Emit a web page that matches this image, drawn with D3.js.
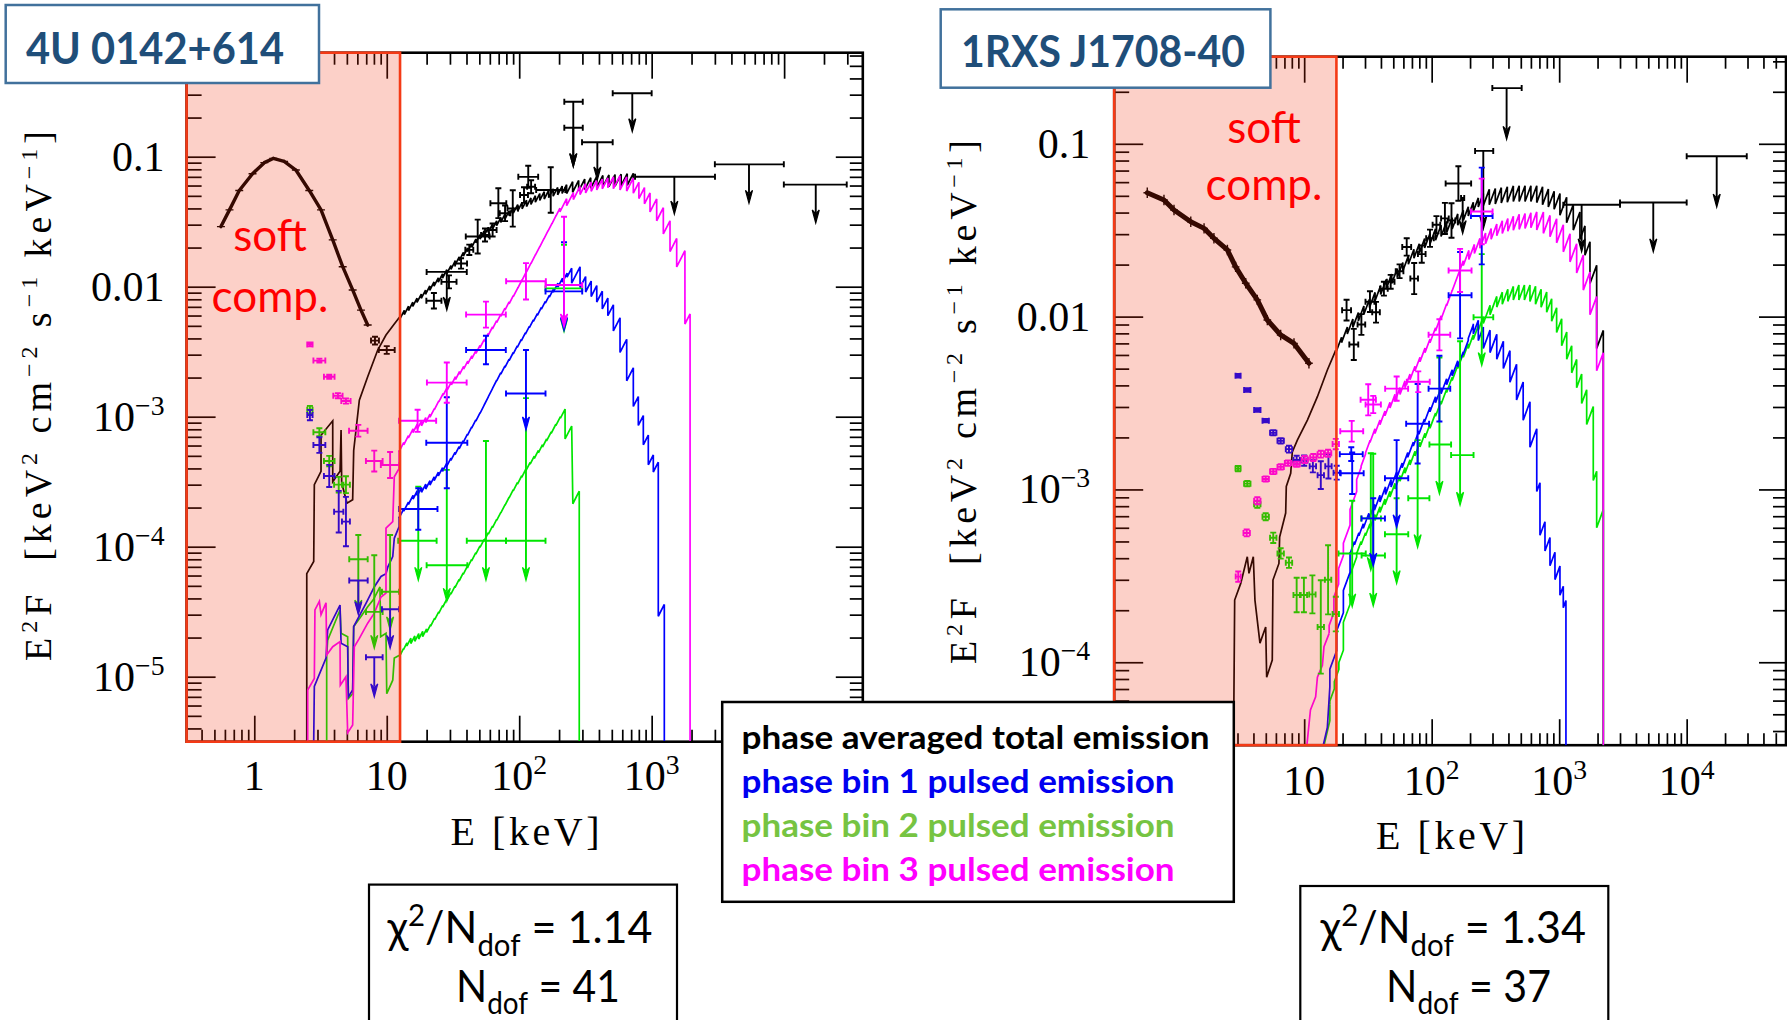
<!DOCTYPE html>
<html>
<head>
<meta charset="utf-8">
<script src="https://cdnjs.cloudflare.com/ajax/libs/d3/7.8.5/d3.min.js"></script>
<style>
  body { margin: 0; background: #fff; overflow: hidden; }
  svg { display: block; }
</style>
</head>
<body>
<div id="chart"></div>
<script>
// ---------- 4U 0142+614 (left panel) : [E keV, E2F] ----------
const u0142Soft = [[0.56,0.029],[0.65,0.039],[0.77,0.055],[0.97,0.074],[1.19,0.090],[1.39,0.097],[1.68,0.092],[2.06,0.079],[2.60,0.055],[3.19,0.039],[3.91,0.0229],[4.65,0.01425],[5.53,0.00944],[6.39,0.0066],[7.18,0.00507]];

const u0142TotalLo = [[2.49,3.2e-6],[2.49,6.2e-5],[2.81,7.7e-5],[2.84,3.0e-4],[3.19,3.8e-4],[3.19,7.2e-4],[3.91,9.3e-4],[3.91,3.16e-4],[4.44,3.8e-4],[4.52,7.9e-4],[4.57,3.1e-4],[5.01,2.16e-4],[5.53,2.3e-4],[5.63,5.5e-4],[6.21,1.34e-3],[7.18,2.03e-3],[8.55,3.26e-3],[9.87,4.25e-3],[11.4,5.16e-3],[12.6,5.9e-3]];
const u0142TotalHi = [[12.6,5.9e-3],[28.4,0.0130],[50.6,0.0243],[90.2,0.0389],[143,0.0492],[228,0.0571],[385,0.0643],[727,0.0673]];
const u0142Bin1Lo = [[2.81,3.2e-6],[2.84,8.4e-6],[3.48,1.39e-5],[3.58,2.29e-5],[4.44,3.56e-5],[4.52,1.81e-5],[5.07,1.70e-5],[5.13,7.0e-6],[5.53,7.9e-6],[5.63,2.43e-5],[6.97,3.67e-5],[8.05,4.9e-5],[9.05,5.9e-5],[9.87,6.2e-5],[10.2,7.0e-5],[11.1,8.4e-5],[11.4,1.16e-4],[12.4,1.43e-4],[12.4,1.70e-4]];
const u0142Bin1Hi = [[12.4,1.70e-4],[15.8,2.43e-4],[21.2,3.08e-4],[28.4,4.25e-4],[37.8,6.4e-4],[50.6,1.06e-3],[67.6,1.91e-3],[90.2,3.08e-3],[128,5.5e-3],[181,9.4e-3],[249,0.0134],[288,0.0113],[385,8.9e-3],[514,6.2e-3],[648,2.9e-3],[727,1.55e-3],[865,7.9e-4],[1029,3.9e-4],[1122,4.3e-4],[1122,3.0e-5],[1246,3.5e-5],[1246,3.2e-6]];
const u0142Bin2Lo = [[3.52,3.2e-6],[3.52,1.43e-5],[3.58,1.91e-5],[4.44,3.26e-5],[4.52,2.16e-5],[5.07,2.03e-5],[5.13,6.8e-6],[5.53,7.4e-6],[5.63,2.43e-5],[6.39,2.9e-5],[7.18,3.45e-5],[7.91,3.9e-5],[8.89,4.9e-5],[9.0,2.03e-5],[9.87,2.16e-5],[10.0,7.4e-6],[11.1,9.4e-6],[11.4,1.39e-5],[12.6,1.47e-5]];
const u0142Bin2Hi = [[12.6,1.47e-5],[14.2,1.81e-5],[20.0,2.22e-5],[28.4,3.9e-5],[37.8,6.2e-5],[50.6,1.0e-4],[67.6,1.6e-4],[90.2,2.73e-4],[121,4.4e-4],[161,6.6e-4],[222,1.13e-3],[222,6.8e-4],[249,8.4e-4],[254,2.16e-4],[284,2.65e-4],[284,3.2e-6]];
const u0142Bin3Lo = [[2.53,3.2e-6],[2.53,7.9e-6],[2.84,9.7e-6],[2.87,3.26e-5],[3.10,3.8e-5],[3.19,3.0e-5],[3.48,3.7e-5],[3.52,1.47e-5],[3.91,1.70e-5],[4.44,1.86e-5],[4.46,8.6e-6],[4.92,1.0e-5],[5.07,3.7e-6],[5.53,4.25e-6],[5.69,1.70e-5],[6.21,1.97e-5],[7.18,2.58e-5],[8.05,3.08e-5],[9.05,4.1e-5],[9.87,4.4e-5],[9.87,1.39e-4],[11.1,1.56e-4],[11.4,3.45e-4],[12.4,4.0e-4],[12.4,5.5e-4]];
const u0142Bin3Hi = [[12.4,5.5e-4],[15.8,7.9e-4],[21.2,1.0e-3],[26.7,1.5e-3],[50.6,3.45e-3],[90.2,8.4e-3],[143,0.0203],[203,0.0401],[288,0.0555],[385,0.0605],[514,0.0643],[727,0.0605],[972,0.0456],[1225,0.0334],[1545,0.0179],[1783,0.0150],[1783,5.5e-3],[1950,5.8e-3],[1950,3.2e-6]];

// points: [E, F, half width in dex (E), half height in dex (F)]
const u0142TotalPts = [[8.15,3.85e-3,0.03,0.03],[10.0,3.26e-3,0.06,0.03],[22.7,7.8e-3,0.057,0.06],[29.5,0.0109,0.057,0.05],[36.4,0.0151,0.045,0.04],[42.0,0.0192,0.03,0.04],[48.6,0.0243,0.09,0.13],[55.2,0.025,0.03,0.05],[63,0.0273,0.03,0.05],[69.6,0.0439,0.06,0.115],[78.2,0.0367,0.04,0.06],[89.4,0.040,0.04,0.14],[108.7,0.0507,0.03,0.06],[117,0.070,0.075,0.085],[123,0.0588,0.03,0.05],[173,0.0555,0.11,0.175]];
// upper limits: [E, Elow, Ehigh, F, F arrow tip, F top of line (optional)]
const u0142TotalUL = [[28.4,20.0,40.2,0.013,6.6e-3],[256,219,302,0.265,0.0838],[256,219,302,0.167,0.0838],[389,298,508,0.129,0.0662],[714,508,1000,0.3076,0.1556],[1483,749,3007,0.0702,0.0362],[5430,3000,9950,0.0873,0.0438],[17330,9950,29700,0.061,0.0309]];
const u0142Bin1Pts = [[2.63,1.03e-3,0.02,0.04],[3.10,6.05e-4,0.045,0.06],[3.68,3.5e-4,0.04,0.085],[4.34,1.86e-4,0.035,0.16],[4.92,1.56e-4,0.03,0.19],[17.3,1.95e-4,0.145,0.16],[28.4,6.3e-4,0.155,0.35],[56.1,3.26e-3,0.15,0.11]];
const u0142Bin1UL = [[6.10,5.21,7.18,5.5e-5,3.0e-5],[8.05,6.97,9.31,1.41e-5,7.0e-6],[10.6,9.2,12.4,3.3e-5,1.65e-5],[112.5,79.5,158,1.51e-3,7.9e-4,3.26e-3],[218,158,299,9.2e-3,4.6e-3,0.022]];
const u0142Bin2Pts = [[2.63,1.13e-3,0.02,0.03],[3.10,7.6e-4,0.045,0.03],[3.68,4.56e-4,0.04,0.04],[4.34,3.0e-4,0.035,0.06],[4.92,3.0e-4,0.03,0.065]];
const u0142Bin2UL = [[6.10,5.21,7.18,8.0e-5,3.08e-5,1.23e-4],[8.05,6.97,9.31,3.15e-5,1.65e-5,8.6e-5],[10.6,9.2,12.4,4.5e-5,2.29e-5,1.23e-4],[17.3,12.2,23.8,1.11e-4,5.5e-5,2.9e-4],[28.4,20.0,40.6,7.2e-5,3.8e-5,3.9e-4],[56.1,40.2,79.5,1.11e-4,5.5e-5,6.5e-4],[112.5,79.5,158,1.11e-4,5.5e-5,1.39e-3],[218,158,299,9.7e-3,4.5e-3,0.021]];
const u0142Bin3Pts = [[2.63,3.6e-3,0.02,0.015],[3.10,2.7e-3,0.045,0.015],[3.68,2.03e-3,0.04,0.015],[4.28,1.45e-3,0.035,0.02],[4.92,1.32e-3,0.035,0.02],[6.10,7.8e-4,0.07,0.045],[8.05,4.56e-4,0.063,0.08],[10.6,4.25e-4,0.07,0.1],[17.1,9.3e-4,0.14,0.085],[28.4,1.83e-3,0.15,0.155],[56.1,6.1e-3,0.15,0.1],[112.5,0.011,0.15,0.14]];
const u0142Bin3UL = [[218,158,299,0.0103,4.9e-3,0.0345]];

// the 10^4 label sits under the legend box in the reference
const u0142EnergyLabels = [1, 10, 100, 1000];
const u0142FluxLabels = [0.1, 0.01, 1e-3, 1e-4, 1e-5];

// ---------- 1RXS J1708-40 (right panel) ----------
const j1708Soft = [[0.588,0.0521],[0.795,0.0473],[0.953,0.0414],[1.29,0.0354],[1.64,0.0324],[1.96,0.0284],[2.50,0.0243],[2.90,0.0194],[3.48,0.0156],[4.29,0.0125],[5.14,9.55e-3],[6.54,7.83e-3],[8.32,7.0e-3],[10.9,5.37e-3]];

const j1708TotalLo = [[2.81,3.3e-5],[2.81,6.0e-5],[2.85,2.29e-4],[3.18,2.86e-4],[3.58,4.08e-4],[3.69,3.27e-4],[3.99,4.08e-4],[4.11,2.29e-4],[4.50,1.29e-4],[4.99,1.60e-4],[5.08,8.2e-5],[5.62,1.03e-4],[5.69,2.99e-4],[6.34,3.73e-4],[6.42,5.3e-4],[7.16,7.3e-4],[7.24,1.04e-3],[7.84,1.24e-3],[8.07,1.65e-3],[8.84,1.93e-3],[10.6,2.52e-3],[12.7,3.44e-3],[15.2,4.91e-3],[17.7,6.4e-3]];
const j1708TotalHi = [[17.7,6.4e-3],[21.8,8.4e-3],[29.4,0.0109],[39.8,0.0143],[53.7,0.0178],[72.6,0.0232],[97,0.0284],[177,0.0383],[254,0.0486],[437,0.0515],[667,0.0515],[1014,0.0457],[1455,0.034],[1744,0.0223],[1968,0.0138],[2219,3.95e-3],[2219,3.3e-5]];
const j1708Bin1Lo = [[14.1,3.3e-5],[15.2,4.2e-5],[15.9,7.2e-5]];
const j1708Bin1Hi = [[15.9,7.2e-5],[18.0,1.48e-4],[20.3,1.99e-4],[22.9,4.34e-4],[29.1,6.2e-4],[39.3,8.9e-4],[53.1,1.2e-3],[71.8,1.82e-3],[97,2.93e-3],[131,4.2e-3],[177,6.0e-3],[212,9.1e-3],[254,7.6e-3],[324,6.8e-3],[411,5.3e-3],[522,3.3e-3],[590,2.45e-3],[667,1.61e-3],[707,6.6e-4],[847,4.34e-4],[1014,3.0e-4],[1077,2.24e-4],[1130,2.1e-4],[1130,3.3e-5]];
const j1708Bin2Lo = [[14.3,3.3e-5],[15.9,4.6e-5],[15.9,5.7e-5]];
const j1708Bin2Hi = [[15.9,5.7e-5],[20.3,1.23e-4],[22.9,3.0e-4],[25.8,4.34e-4],[32.8,6.2e-4],[47.1,9.4e-4],[67.6,1.43e-3],[97,2.31e-3],[131,3.72e-3],[177,6.0e-3],[212,7.6e-3],[254,9.7e-3],[324,0.0123],[437,0.0138],[590,0.0138],[798,0.0123],[955,9.7e-3],[1146,6.8e-3],[1371,4.72e-3],[1643,3.1e-3],[1851,2.31e-3],[1968,6.2e-4],[2219,7.4e-4],[2219,3.3e-5]];
const j1708Bin3Lo = [[10.5,3.3e-5],[11.2,5.3e-5],[12.3,6.3e-5],[12.7,8.2e-5],[13.9,9.6e-5],[14.3,1.23e-4],[15.7,1.47e-4]];
const j1708Bin3Hi = [[15.7,1.47e-4],[20.3,4.6e-4],[22.9,6.6e-4],[25.8,1.13e-3],[32.8,1.93e-3],[47.1,3.1e-3],[67.6,4.44e-3],[97,7.2e-3],[131,0.0116],[177,0.021],[239,0.0267],[324,0.032],[437,0.035],[667,0.0365],[955,0.032],[1216,0.0252],[1546,0.0187],[1744,0.0138],[1968,9.7e-3],[2219,3.1e-3],[2219,3.3e-5]];

const j1708TotalPts = [[21.5,0.0109,0.035,0.06],[24.5,6.9e-3,0.035,0.09],[28.1,9.0e-3,0.03,0.06],[32.8,0.0122,0.035,0.06],[36.6,0.0106,0.03,0.06],[42.2,0.0145,0.03,0.04],[47.7,0.0159,0.03,0.04],[56,0.0183,0.03,0.04],[63.7,0.0253,0.035,0.05],[72.9,0.0166,0.03,0.09],[83.6,0.023,0.03,0.05],[97,0.0284,0.03,0.05],[109,0.034,0.03,0.05],[127,0.037,0.03,0.09],[143,0.036,0.03,0.1],[162,0.0589,0.1,0.1]];
const j1708TotalUL = [[175,170,180,0.0486,0.0302],[254,219,304,0.091,0.0321],[387,299,508,0.21,0.106],[1500,1077,3000,0.0444,0.0237],[5470,3000,10000,0.0457,0.0237],[17200,10000,29600,0.0847,0.043]];
const j1708Bin1Pts = [[3.03,4.55e-3,0.02,0.01],[3.58,3.76e-3,0.025,0.01],[4.29,2.88e-3,0.025,0.01],[4.99,2.5e-3,0.025,0.01],[5.72,2.13e-3,0.025,0.015],[6.54,1.91e-3,0.025,0.015],[7.6,1.71e-3,0.025,0.02],[8.73,1.48e-3,0.025,0.025],[10.0,1.47e-3,0.025,0.03],[11.7,1.36e-3,0.025,0.035],[13.5,1.21e-3,0.025,0.08],[15.5,1.36e-3,0.025,0.07],[18.0,1.25e-3,0.025,0.04],[23.4,1.6e-3,0.09,0.04],[23.8,1.24e-3,0.09,0.12],[77.6,2.4e-3,0.09,0.23],[115,3.83e-3,0.085,0.19],[167,0.0133,0.09,0.25],[247,0.0382,0.085,0.28]];
const j1708Bin1UL = [[34.8,28.2,43.0,6.8e-4,3.6e-4,8.9e-4],[53.1,43.0,65.5,1.16e-3,6.0e-4,1.93e-3]];
const j1708Bin2Pts = [[3.03,1.32e-3,0.02,0.015],[3.58,1.08e-3,0.025,0.015],[4.29,8.2e-4,0.025,0.02],[4.99,6.95e-4,0.025,0.02],[5.72,5.25e-4,0.025,0.03],[6.54,4.26e-4,0.025,0.03],[7.6,3.77e-4,0.025,0.03],[8.73,2.45e-4,0.025,0.1],[9.95,2.45e-4,0.025,0.1],[11.6,2.47e-4,0.025,0.11],[13.5,1.6e-4,0.025,0.27],[15.4,3.0e-4,0.025,0.2],[17.7,1.9e-4,0.025,0.1]];
const j1708Bin2UL = [[23.8,18.6,30.4,4.26e-4,2.09e-4,8.6e-4],[33.3,28,40,6.8e-4,3.4e-4,1.62e-3],[34.8,28.2,43.0,4.15e-4,2.11e-4,1.61e-3],[53.1,43.0,65.5,5.5e-4,2.85e-4,8.9e-4],[77.6,65.5,96,8.9e-4,4.6e-4,1.93e-3],[115,96,142,1.82e-3,9.4e-4,5.8e-3],[167,142,213,1.58e-3,8.1e-4,7.2e-3],[247,213,304,9.9e-3,5.2e-3,0.023]];
const j1708Bin3Pts = [[3.04,3.13e-4,0.02,0.03],[3.54,5.6e-4,0.025,0.02],[4.29,8.6e-4,0.025,0.02],[4.99,1.15e-3,0.025,0.015],[5.72,1.27e-3,0.025,0.015],[6.54,1.35e-3,0.025,0.015],[7.47,1.42e-3,0.025,0.015],[8.73,1.40e-3,0.025,0.015],[10.1,1.49e-3,0.025,0.02],[11.8,1.53e-3,0.025,0.02],[13.5,1.6e-3,0.025,0.02],[15.4,1.62e-3,0.025,0.02],[17.7,1.83e-3,0.025,0.03],[23.6,2.17e-3,0.09,0.06],[31.8,3.3e-3,0.06,0.09],[34.8,3.1e-3,0.06,0.05],[53.1,3.83e-3,0.09,0.07],[78.5,4.2e-3,0.09,0.06],[115,7.85e-3,0.085,0.09],[167,0.0185,0.09,0.125],[247,0.0406,0.085,0.19]];
const j1708Bin3UL = [];

// the "1" label sits under the legend box in the reference
const j1708EnergyLabels = [10, 100, 1000, 10000];
const j1708FluxLabels = [0.1, 0.01, 1e-3, 1e-4];

const legendLabels = ["phase averaged total emission", "phase bin 1 pulsed emission", "phase bin 2 pulsed emission", "phase bin 3 pulsed emission"];
const legendColors = ["#000000", "#0000f0", "#76c442", "#ff00ff"];
const chiValues = [{chi: "1.14", ndof: "41"}, {chi: "1.34", ndof: "37"}];

// ---------- drawing ----------
var colTotal = "#000", colBin1 = "#0000ff", colBin2 = "#00e600", colBin3 = "#ff00ff";
var serif = '"Liberation Serif", "Times New Roman", serif';
var sans = 'Lato, "Open Sans", sans-serif';

var svg = d3.select("#chart").append("svg")
    .attr("width", 1787).attr("height", 1020);
svg.append("rect").attr("width", 1787).attr("height", 1020).attr("fill", "#fff");

function logTicks(domain) {
    var lo = Math.floor(Math.log10(domain[0])), hi = Math.ceil(Math.log10(domain[1]));
    var major = [], minor = [];
    for (var d = lo; d <= hi; d++) {
        for (var m = 1; m < 10; m++) {
            var v = m * Math.pow(10, d);
            if (v < domain[0] || v > domain[1]) continue;
            (m === 1 ? major : minor).push(v);
        }
    }
    return {major: major, minor: minor};
}

// binned model look: each bin rises with E^2 inside, vertical jumps at bin edges
function sawPath(pts, widthAt, k) {
    var path = d3.path();
    path.moveTo(pts[0][0], pts[0][1]);
    for (var i = 0; i < pts.length - 1; i++) {
        var x0 = pts[i][0], y0 = pts[i][1], x1 = pts[i + 1][0], y1 = pts[i + 1][1];
        var dx = x1 - x0;
        if (dx < 1.5) { path.lineTo(x1, y1); continue; }
        var n = Math.max(1, Math.round(dx / widthAt(x0)));
        var bw = dx / n, r = k * bw;
        for (var j = 0; j < n; j++) {
            var xa = x0 + j * bw, yc = y0 + (y1 - y0) * (j + 0.5) / n;
            path.lineTo(xa, yc + r / 2);
            path.lineTo(xa + bw, yc - r / 2);
        }
        path.lineTo(x1, y1);
    }
    return path.toString();
}

function rich(text, parts, base, small, shift) {
    var cur = 0;
    parts.forEach(function(pt) {
        var off = pt.sup ? -shift : (pt.sub ? shift * 0.75 : 0);
        text.append("tspan")
            .attr("dy", off - cur)
            .attr("font-size", (pt.sup || pt.sub) ? small : base)
            .text(pt.t);
        cur = off;
    });
}

function powerLabel(text, v, size) {
    var e = Math.round(Math.log10(v));
    if (e === 0) return text.text("1");
    if (e === 1) return text.text("10");
    if (e === -1) return text.text("0.1");
    if (e === -2) return text.text("0.01");
    rich(text, [{t: "10"}, {t: (e < 0 ? "\u2212" : "") + Math.abs(e), sup: true}], size, size * 0.66, 16);
}

function crossPath(x, y, pts, ex, ey, cap) {
    var path = d3.path();
    pts.forEach(function(d) {
        var xc = x(d[0]), yc = y(d[1]);
        var xl = x(d[0] / Math.pow(10, ex(d))), xr = x(d[0] * Math.pow(10, ex(d)));
        var yt = y(d[1] * Math.pow(10, ey(d))), yb = y(d[1] / Math.pow(10, ey(d)));
        path.moveTo(xl, yc); path.lineTo(xr, yc);
        path.moveTo(xc, yt); path.lineTo(xc, yb);
        if (cap > 0) {
            path.moveTo(xl, yc - cap); path.lineTo(xl, yc + cap);
            path.moveTo(xr, yc - cap); path.lineTo(xr, yc + cap);
            path.moveTo(xc - cap, yt); path.lineTo(xc + cap, yt);
            path.moveTo(xc - cap, yb); path.lineTo(xc + cap, yb);
        }
    });
    return path.toString();
}

function drawPanel(p) {
    var x = d3.scaleLog().domain(p.eDomain).range([p.left, p.right]);
    var y = d3.scaleLog().domain(p.fDomain).range([p.bottom, p.top]);
    var g = svg.append("g");

    svg.append("clipPath").attr("id", "clip-" + p.id)
        .append("rect")
        .attr("x", p.left).attr("y", p.top)
        .attr("width", p.right - p.left).attr("height", p.bottom - p.top);

    // inward ticks on all four sides
    var tx = logTicks(p.eDomain), ty = logTicks(p.fDomain);
    var axes = [
        [d3.axisBottom(x), tx, "translate(0," + p.bottom + ")", 26, 12],
        [d3.axisTop(x), tx, "translate(0," + p.top + ")", 26, 12],
        [d3.axisLeft(y), ty, "translate(" + p.left + ",0)", 29, 15],
        [d3.axisRight(y), ty, "translate(" + p.right + ",0)", 27, 13]
    ];
    axes.forEach(function(a) {
        [[a[1].major, a[3]], [a[1].minor, a[4]]].forEach(function(set) {
            g.append("g")
                .attr("transform", a[2])
                .call(a[0].tickValues(set[0]).tickSize(-set[1]).tickFormat(""))
                .call(function(s) { s.select(".domain").remove(); })
                .selectAll("line").attr("stroke", "#000").attr("stroke-width", 1.7);
        });
    });

    g.append("rect")
        .attr("x", p.left).attr("y", p.top)
        .attr("width", p.right - p.left).attr("height", p.bottom - p.top)
        .attr("fill", "none").attr("stroke", "#000").attr("stroke-width", 2.6);

    var plot = g.append("g").attr("clip-path", "url(#clip-" + p.id + ")");
    var line = d3.line().x(function(d) { return x(d[0]); }).y(function(d) { return y(d[1]); });

    // soft component data: dense run of points drawn as a band with small error crosses
    plot.append("path").datum(p.soft)
        .attr("d", line)
        .attr("fill", "none").attr("stroke", "#000")
        .attr("stroke-width", p.softWidth)
        .attr("stroke-linejoin", "round").attr("stroke-linecap", "round");
    plot.append("path")
        .attr("d", crossPath(x, y, p.soft, function() { return 0.03; }, function() { return p.softErr; }, 0))
        .attr("fill", "none").attr("stroke", "#000").attr("stroke-width", 1.4);

    var k = 2 * (y(0.1) - y(1)) / (x(10) - x(1));
    var widthAt = function(px) { return x.invert(px) < 200 ? p.toothLo : p.toothHi; };

    p.models.forEach(function(m) {
        plot.append("path").datum(m.lo)
            .attr("d", line)
            .attr("fill", "none").attr("stroke", m.color).attr("stroke-width", 1.7);
        plot.append("path")
            .attr("d", sawPath(m.hi.map(function(d) { return [x(d[0]), y(d[1])]; }), widthAt, k))
            .attr("fill", "none").attr("stroke", m.color).attr("stroke-width", 1.7)
            .attr("stroke-linejoin", "miter");
    });

    var cap = 3;
    p.data.forEach(function(s) {
        var dg = plot.append("g").attr("stroke", s.color).attr("fill", s.color).attr("stroke-width", 1.9);
        dg.append("path")
            .attr("d", crossPath(x, y, s.pts, function(d) { return d[2]; }, function(d) { return d[3]; }, cap))
            .attr("fill", "none");
        s.uls.forEach(function(d) {
            var xc = x(d[0]), xl = x(d[1]), xr = x(d[2]), yc = y(d[3]), ytip = y(d[4]);
            var ytop = d.length > 5 ? y(d[5]) : yc;
            var path = d3.path();
            path.moveTo(xl, yc); path.lineTo(xr, yc);
            path.moveTo(xl, yc - cap); path.lineTo(xl, yc + cap);
            path.moveTo(xr, yc - cap); path.lineTo(xr, yc + cap);
            path.moveTo(xc, ytop); path.lineTo(xc, ytip - 10);
            if (d.length > 5) { path.moveTo(xc - cap, ytop); path.lineTo(xc + cap, ytop); }
            dg.append("path").attr("d", path.toString()).attr("fill", "none");
            dg.append("path")
                .attr("d", "M" + xc + "," + ytip + "L" + (xc - 3.5) + "," + (ytip - 13) +
                           "L" + xc + "," + (ytip - 9) + "L" + (xc + 3.5) + "," + (ytip - 13) + "Z")
                .attr("stroke-width", 1.2);
        });
    });

    // soft component shading
    g.append("rect")
        .attr("x", p.left).attr("y", p.top)
        .attr("width", x(p.softEdge) - p.left).attr("height", p.bottom - p.top)
        .attr("fill", "rgb(241,41,5)").attr("fill-opacity", 0.22)
        .attr("stroke", "#f43a16").attr("stroke-width", 2.6);

    g.append("text").attr("x", p.softText[0]).attr("y", p.softText[1])
        .attr("text-anchor", "middle").attr("font-family", sans).attr("font-size", 44)
        .attr("fill", "#ff0000").text("soft");
    g.append("text").attr("x", p.softText[0]).attr("y", p.softText[1] + p.softText[2])
        .attr("text-anchor", "middle").attr("font-family", sans).attr("font-size", 44)
        .attr("fill", "#ff0000").text("comp.");

    // tick labels
    p.xLabels.forEach(function(v) {
        var t = g.append("text").attr("x", x(v)).attr("y", p.bottom + p.xLabelDy)
            .attr("text-anchor", "middle").attr("font-family", serif).attr("font-size", 42);
        powerLabel(t, v, 42);
    });
    p.yLabels.forEach(function(v) {
        var t = g.append("text").attr("x", p.left - p.yLabelDx).attr("y", y(v) + 14)
            .attr("text-anchor", "end").attr("font-family", serif).attr("font-size", 42);
        powerLabel(t, v, 42);
    });

    g.append("text").attr("x", p.xTitle[0]).attr("y", p.xTitle[1])
        .attr("text-anchor", "middle").attr("font-family", serif).attr("font-size", 40)
        .attr("textLength", 149).attr("lengthAdjust", "spacing")
        .text("E  [keV]");

    var yt = g.append("text")
        .attr("transform", "translate(" + p.yTitle[0] + "," + p.yTitle[1] + ") rotate(-90)")
        .attr("text-anchor", "middle").attr("font-family", serif).attr("font-size", 38);
    rich(yt, [{t: "E"}, {t: "2", sup: true}, {t: "F\u00a0\u00a0[keV"}, {t: "2", sup: true},
              {t: "\u00a0cm"}, {t: "\u22122", sup: true}, {t: "\u00a0s"}, {t: "\u22121", sup: true},
              {t: "\u00a0keV"}, {t: "\u22121", sup: true}, {t: "]"}], 38, 24, 14);
    yt.attr("textLength", p.yTitle[2]).attr("lengthAdjust", "spacing");
}

var panels = [
    {
        id: "u0142", left: 186.6, right: 862.8, top: 52.7, bottom: 741.7,
        eDomain: [Math.pow(10, -0.511), Math.pow(10, 4.594)], fDomain: [Math.pow(10, -5.5), Math.pow(10, -0.2)],
        softEdge: 12.6, softWidth: 3.4, softErr: 0.012, toothLo: 4.2, toothHi: 6.6,
        soft: u0142Soft,
        models: [
            {lo: u0142TotalLo, hi: u0142TotalHi, color: colTotal},
            {lo: u0142Bin2Lo, hi: u0142Bin2Hi, color: colBin2},
            {lo: u0142Bin1Lo, hi: u0142Bin1Hi, color: colBin1},
            {lo: u0142Bin3Lo, hi: u0142Bin3Hi, color: colBin3}
        ],
        data: [
            {pts: u0142TotalPts, uls: u0142TotalUL, color: colTotal},
            {pts: u0142Bin2Pts, uls: u0142Bin2UL, color: colBin2},
            {pts: u0142Bin1Pts, uls: u0142Bin1UL, color: colBin1},
            {pts: u0142Bin3Pts, uls: u0142Bin3UL, color: colBin3}
        ],
        xLabels: u0142EnergyLabels, yLabels: u0142FluxLabels, xLabelDy: 48, yLabelDx: 22,
        softText: [270, 251, 61], xTitle: [525, 845], yTitle: [51, 396, 530]
    },
    {
        id: "j1708", left: 1114.2, right: 1786, top: 56.7, bottom: 745.2,
        eDomain: [Math.pow(10, -0.49), Math.pow(10, 4.779)], fDomain: [Math.pow(10, -4.48), Math.pow(10, -0.496)],
        softEdge: 17.9, softWidth: 5, softErr: 0.03, toothLo: 5.2, toothHi: 6.5,
        soft: j1708Soft,
        models: [
            {lo: j1708TotalLo, hi: j1708TotalHi, color: colTotal},
            {lo: j1708Bin2Lo, hi: j1708Bin2Hi, color: colBin2},
            {lo: j1708Bin1Lo, hi: j1708Bin1Hi, color: colBin1},
            {lo: j1708Bin3Lo, hi: j1708Bin3Hi, color: colBin3}
        ],
        data: [
            {pts: j1708TotalPts, uls: j1708TotalUL, color: colTotal},
            {pts: j1708Bin2Pts, uls: j1708Bin2UL, color: colBin2},
            {pts: j1708Bin1Pts, uls: j1708Bin1UL, color: colBin1},
            {pts: j1708Bin3Pts, uls: j1708Bin3UL, color: colBin3}
        ],
        xLabels: j1708EnergyLabels, yLabels: j1708FluxLabels, xLabelDy: 50, yLabelDx: 24,
        softText: [1264, 143, 57], xTitle: [1450.5, 849], yTitle: [976, 402, 524]
    }
];

panels.forEach(drawPanel);

// source name boxes
var titles = [
    {name: "4U 0142+614", box: [5.7, 5, 313.3, 78], tx: 26, ty: 64, w: 258},
    {name: "1RXS J1708-40", box: [940.7, 9.3, 329.7, 78.4], tx: 961, ty: 67, w: 284}
];
titles.forEach(function(t) {
    svg.append("rect").attr("x", t.box[0]).attr("y", t.box[1]).attr("width", t.box[2]).attr("height", t.box[3])
        .attr("fill", "#fff").attr("stroke", "#41719c").attr("stroke-width", 2.5);
    svg.append("text").attr("x", t.tx).attr("y", t.ty)
        .attr("font-family", sans).attr("font-weight", 700).attr("font-size", 43)
        .attr("fill", "#1f4e79")
        .attr("textLength", t.w).attr("lengthAdjust", "spacingAndGlyphs")
        .text(t.name);
});

// legend
svg.append("rect").attr("x", 722.2).attr("y", 702).attr("width", 511.6).attr("height", 199.8)
    .attr("fill", "#fff").attr("stroke", "#000").attr("stroke-width", 2.5);
svg.selectAll(".legend-label")
    .data(legendLabels)
    .enter().append("text")
    .attr("class", "legend-label")
    .attr("x", 741.6)
    .attr("y", function(d, i) { return 748.6 + i * 44.2; })
    .attr("font-family", sans).attr("font-weight", 700).attr("font-size", 32)
    .attr("fill", function(d, i) { return legendColors[i]; })
    .attr("textLength", function(d, i) { return i === 0 ? 468 : 433; })
    .attr("lengthAdjust", "spacingAndGlyphs")
    .text(function(d) { return d; });

// fit quality boxes
var chiBoxes = [[369, 884.6, 387.5, 265, 456, 164], [1300.3, 886, 1320.5, 265.5, 1386, 165]];
chiBoxes.forEach(function(b, i) {
    svg.append("rect").attr("x", b[0]).attr("y", b[1]).attr("width", 308).attr("height", 200)
        .attr("fill", "#fff").attr("stroke", "#000").attr("stroke-width", 2.2);
    var t1 = svg.append("text").attr("x", b[2]).attr("y", 943)
        .attr("font-family", sans).attr("font-size", 44).attr("fill", "#000");
    rich(t1, [{t: "\u03c7"}, {t: "2", sup: true}, {t: "/N"}, {t: "dof", sub: true}, {t: " = " + chiValues[i].chi}], 44, 30, 17);
    t1.attr("textLength", b[3]).attr("lengthAdjust", "spacingAndGlyphs");
    var t2 = svg.append("text").attr("x", b[4]).attr("y", 1001.7)
        .attr("font-family", sans).attr("font-size", 44).attr("fill", "#000");
    rich(t2, [{t: "N"}, {t: "dof", sub: true}, {t: " = " + chiValues[i].ndof}], 44, 30, 17);
    t2.attr("textLength", b[5]).attr("lengthAdjust", "spacingAndGlyphs");
});
</script>
</body>
</html>
